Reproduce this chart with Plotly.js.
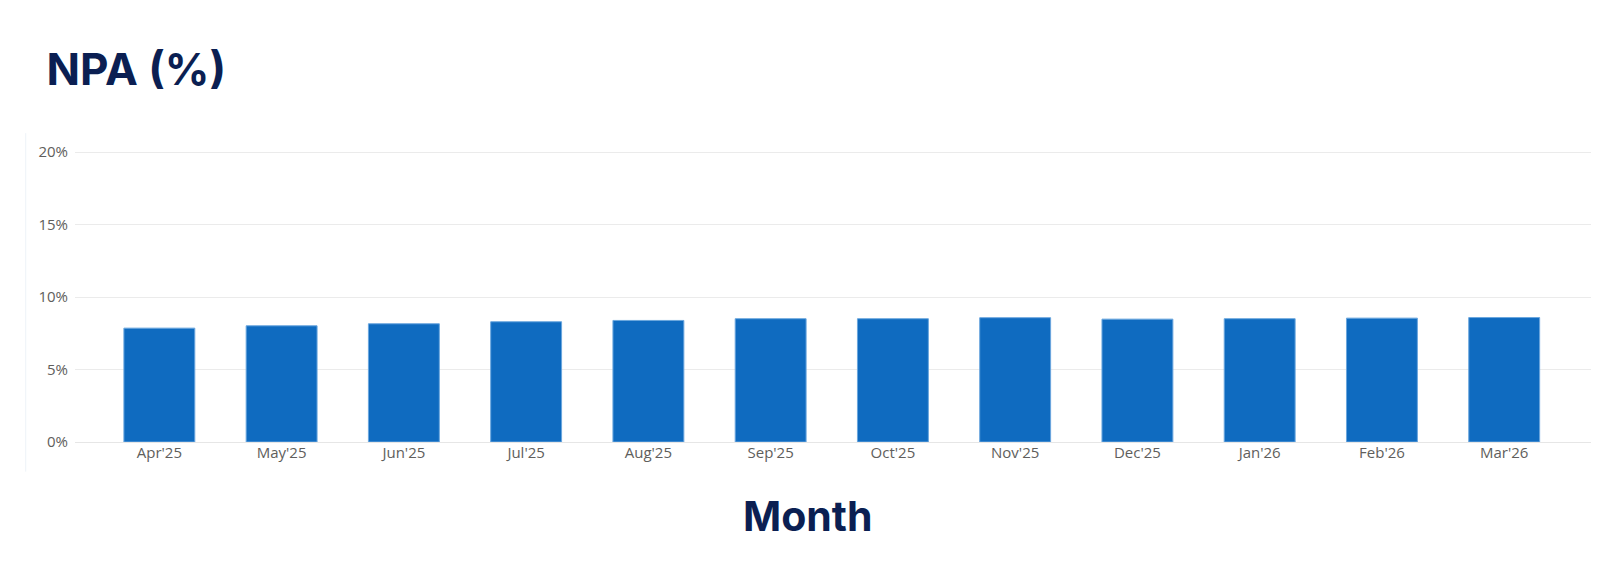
<!DOCTYPE html>
<html>
<head>
<meta charset="utf-8">
<script src="https://cdn.plot.ly/plotly-3.0.1.min.js"></script>
<style>
  html, body { margin: 0; padding: 0; background: #fff; }
  #plot { width: 1603px; height: 569px; }
</style>
</head>
<body>
<div id="plot"></div>
<script>
// NPA by month
var months = ["Apr'25", "May'25", "Jun'25", "Jul'25", "Aug'25", "Sep'25",
              "Oct'25", "Nov'25", "Dec'25", "Jan'26", "Feb'26", "Mar'26"];
var npaPct = [7.86, 8.02, 8.16, 8.30, 8.39, 8.51, 8.51, 8.58, 8.48, 8.51, 8.55, 8.59];
var yTicks = [0, 5, 10, 15, 20];
var yTickText = ["0%", "5%", "10%", "15%", "20%"];

var trace1 = {
  x: months,
  y: npaPct,
  type: "bar",
  width: 0.58,
  marker: {
    color: "#0f6bc0",
    line: { color: "#6aa6de", width: 1 }
  },
  hoverinfo: "x+y"
};

var layout = {
  width: 1603,
  height: 569,
  margin: { l: 75, r: 12, t: 145, b: 127 },
  paper_bgcolor: "#ffffff",
  plot_bgcolor: "#ffffff",
  showlegend: false,
  title: {
    text: "<b>NPA (%)</b>",
    font: { family: "Inter, Lato, sans-serif", size: 44, color: "#0b1f52" },
    xref: "container",
    x: 0.029,
    xanchor: "left",
    yref: "container",
    y: 0.877,
    yanchor: "middle"
  },
  xaxis: {
    type: "category",
    range: [-0.69, 11.71],
    showgrid: false,
    showline: false,
    zeroline: false,
    ticks: "",
    tickfont: { family: "Open Sans, sans-serif", size: 15, color: "#605e5c" },
    fixedrange: true
  },
  yaxis: {
    range: [0, 20.5],
    tickvals: yTicks,
    ticktext: yTickText,
    showgrid: true,
    gridcolor: "#ebebeb",
    gridwidth: 1,
    zeroline: true,
    zerolinecolor: "#e6e6e6",
    zerolinewidth: 1,
    showline: false,
    ticks: "",
    ticklabelstandoff: 6,
    tickfont: { family: "Open Sans, sans-serif", size: 15, color: "#605e5c" },
    fixedrange: true
  },
  annotations: [{
    text: "<b>Month</b>",
    xref: "paper",
    yref: "paper",
    x: 0.4835,
    y: -0.25,
    xanchor: "center",
    yanchor: "middle",
    showarrow: false,
    font: { family: "Inter, Lato, sans-serif", size: 41, color: "#0b1f52" }
  }],
  shapes: [{
    type: "line",
    xref: "paper",
    yref: "paper",
    x0: -0.0325, x1: -0.0325,
    y0: 1.04, y1: -0.1,
    line: { color: "#eef3f8", width: 1 }
  }]
};

Plotly.newPlot("plot", [trace1], layout, { displayModeBar: false, staticPlot: true });
</script>
</body>
</html>
